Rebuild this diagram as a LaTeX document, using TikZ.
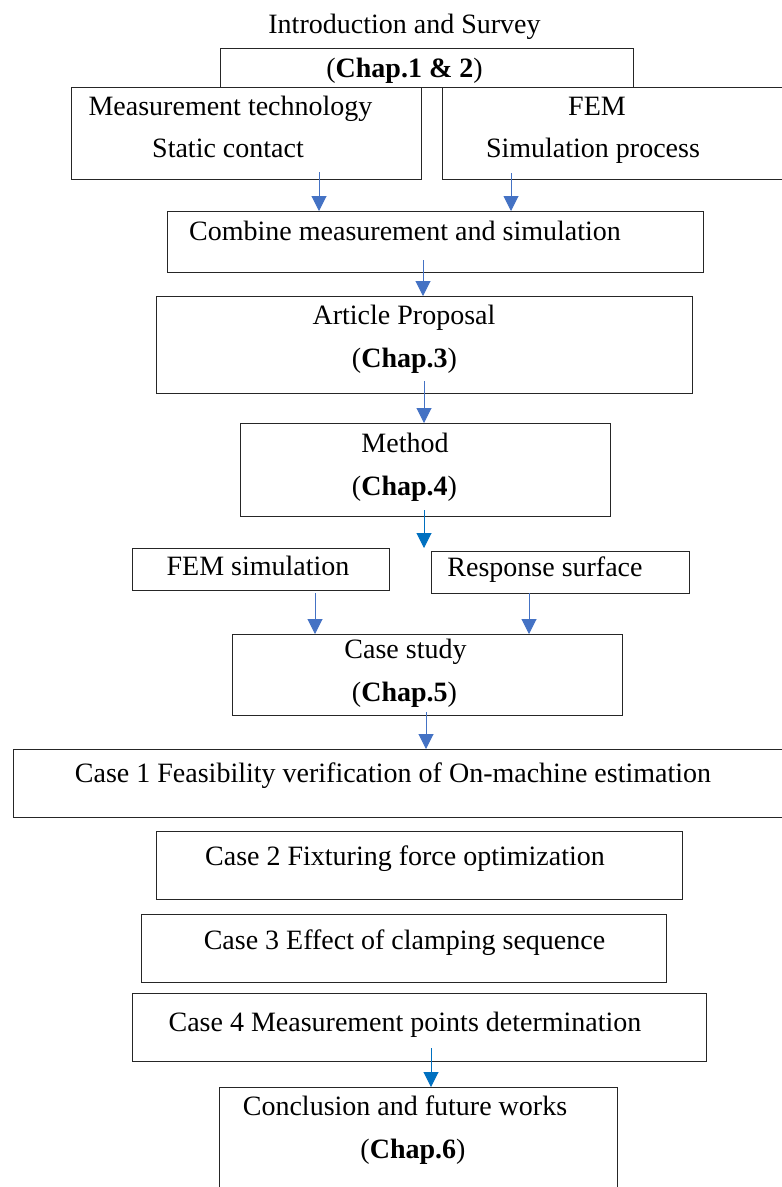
\documentclass[tikz,border=0pt]{standalone}
\usepackage{fontspec}
\setmainfont{Liberation Serif}
\usetikzlibrary{arrows.meta}
\definecolor{arrblue}{HTML}{4472C4}
\definecolor{arrdark}{HTML}{0070C0}
\begin{document}
\begin{tikzpicture}[x=1pt,y=-1pt,
  box/.style={draw=black!85, line width=1.1pt, rectangle, inner sep=0pt, anchor=north west},
  txt/.style={anchor=base, inner sep=0pt, font=\fontsize{28}{34}\selectfont},
  arr/.style={draw=arrblue, line width=1pt, -{Triangle[width=15pt,length=15pt]}},
  arrd/.style={arr, draw=arrdark}]
\useasboundingbox (0,0) rectangle (782,1187);
\clip (0,0) rectangle (782,1187);
\fill[white] (0,0) rectangle (782,1187);
% boxes
\node[box, minimum width=413pt, minimum height=39pt] (chap) at (220,48) {};
\node[box, minimum width=350pt, minimum height=92pt] (meas) at (71,87) {};
\node[box, minimum width=360pt, minimum height=92pt] (fem) at (442,87) {};
\node[box, minimum width=536pt, minimum height=61pt] (comb) at (167,211) {};
\node[box, minimum width=536pt, minimum height=97pt] (art) at (156,296) {};
\node[box, minimum width=370pt, minimum height=93pt] (meth) at (240,423) {};
\node[box, minimum width=257pt, minimum height=42pt] (femsim) at (132,548) {};
\node[box, minimum width=258pt, minimum height=42pt] (resp) at (431,551) {};
\node[box, minimum width=390pt, minimum height=81pt] (cs) at (232,634) {};
\node[box, minimum width=790pt, minimum height=68pt] (c1) at (13,749) {};
\node[box, minimum width=526pt, minimum height=68pt] (c2) at (156,831) {};
\node[box, minimum width=525pt, minimum height=68pt] (c3) at (141,914) {};
\node[box, minimum width=574pt, minimum height=68pt] (c4) at (132,993) {};
\node[box, minimum width=398pt, minimum height=130pt] (concl) at (219,1087) {};
% texts
\node[txt] (t0) at (404.5,33) {Introduction and Survey};
\node[txt] (t1) at (404.5,77) {(\textbf{Chap.1 \& 2})};
\node[txt] (t2) at (230.5,115) {Measurement technology};
\node[txt] (t3) at (228,157) {Static contact};
\node[txt] (t4) at (597,115) {FEM};
\node[txt] (t5) at (593,157) {Simulation process};
\node[txt] (t6) at (405,240) {Combine measurement and simulation};
\node[txt] (t7) at (404,324) {Article Proposal};
\node[txt] (t8) at (404.5,367) {(\textbf{Chap.3})};
\node[txt] (t9) at (405,452) {Method};
\node[txt] (t10) at (404.5,495) {(\textbf{Chap.4})};
\node[txt] (t11) at (258,575) {FEM simulation};
\node[txt] (t12) at (545,576) {Response surface};
\node[txt] (t13) at (405.5,658) {Case study};
\node[txt] (t14) at (404.5,701) {(\textbf{Chap.5})};
\node[txt] (t15) at (393,782) {Case 1 Feasibility verification of On-machine estimation};
\node[txt] (t16) at (405,865) {Case 2 Fixturing force optimization};
\node[txt] (t17) at (404.5,949) {Case 3 Effect of clamping sequence};
\node[txt] (t18) at (405,1031) {Case 4 Measurement points determination};
\node[txt] (t19) at (405,1115) {Conclusion and future works};
\node[txt] (t20) at (413,1158) {(\textbf{Chap.6})};
% arrow start points
\coordinate (s1) at (319,172);
\coordinate (s2) at (511,173);
\coordinate (s3) at (423,260);
\coordinate (s4) at (424,381);
\coordinate (s5) at (424,510);
\coordinate (s6) at (315,593);
\coordinate (s7) at (529,593);
\coordinate (s8) at (426,712);
\coordinate (s9) at (431,1048);
\coordinate (e5) at (424,548);
\draw[arr] (s1) -- (s1 |- comb.north);
\draw[arr] (s2) -- (s2 |- comb.north);
\draw[arr] (s3) -- (s3 |- art.north);
\draw[arr] (s4) -- (s4 |- meth.north);
\draw[arrd] (s5) -- (e5);
\draw[arr] (s6) -- (s6 |- cs.north);
\draw[arr] (s7) -- (s7 |- cs.north);
\draw[arr] (s8) -- (s8 |- c1.north);
\draw[arrd] (s9) -- (s9 |- concl.north);
\end{tikzpicture}
\end{document}
